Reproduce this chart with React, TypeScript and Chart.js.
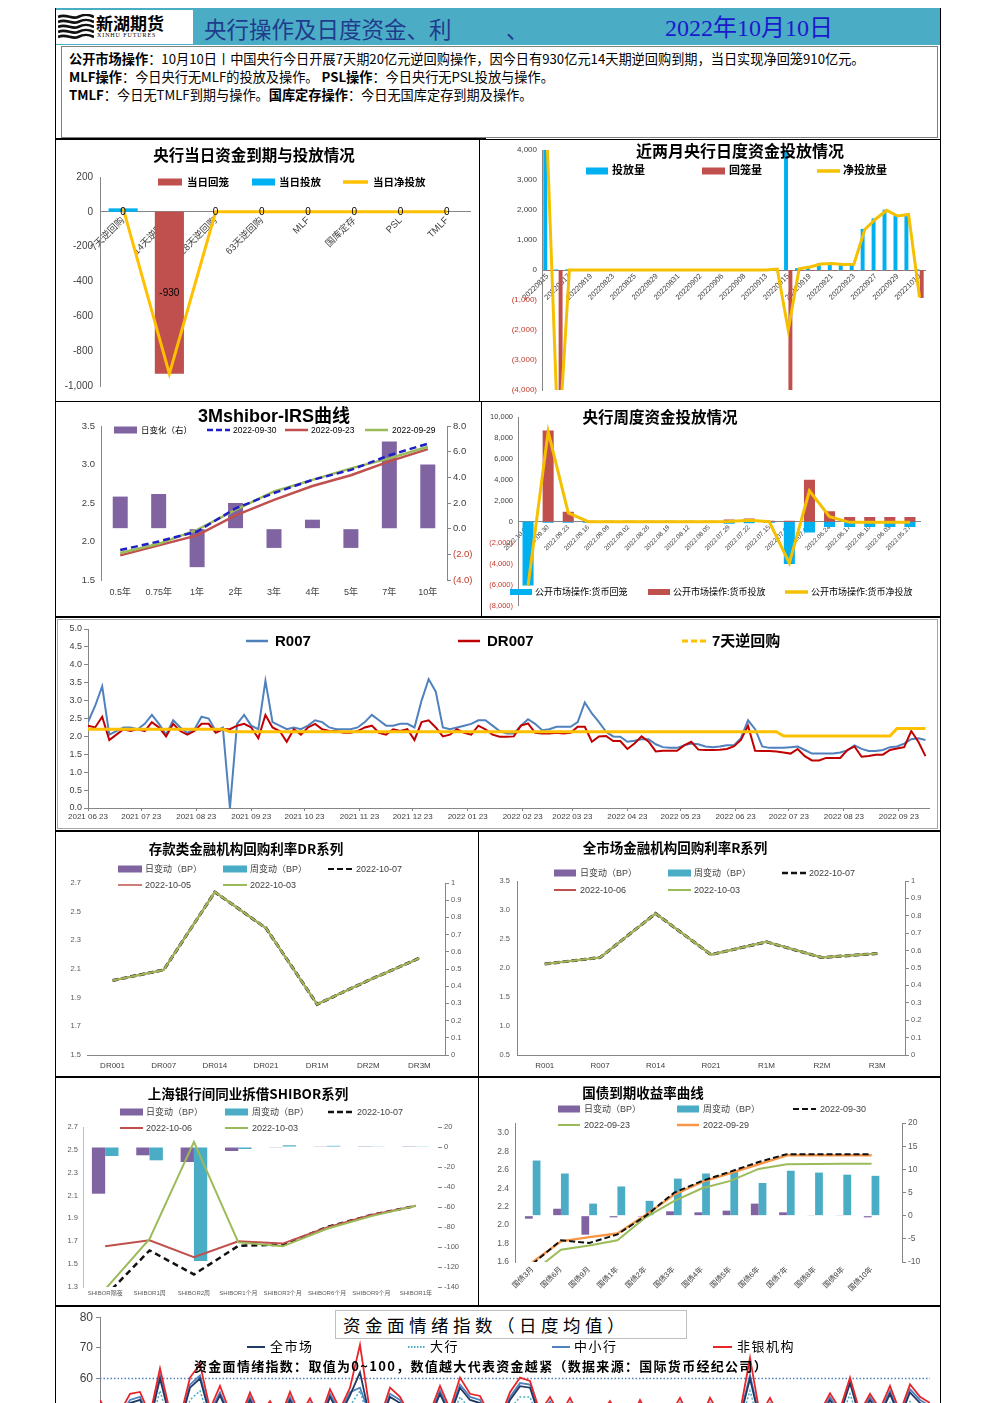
import React, { useEffect, useRef } from 'react';
import { Chart, registerables } from 'chart.js';

Chart.register(...registerables);

const LATIN = '"Liberation Sans", "Noto Sans CJK SC", sans-serif';
const CJK = '"Noto Sans CJK SC", "Liberation Sans", sans-serif';
const SERIF = '"Liberation Serif", "Noto Sans CJK SC", serif';
Chart.defaults.font.family = LATIN;
Chart.defaults.color = '#404040';

// ---------------- data ----------------
// 1. 央行当日资金到期与投放情况
const OPS_CATS = ['7天逆回购', '14天逆回购', '28天逆回购', '63天逆回购', 'MLF', '国库定存', 'PSL', 'TMLF'];
const OPS_WITHDRAW = [0, -930, 0, 0, 0, 0, 0, 0];
const OPS_INJECT = [20, 0, 0, 0, 0, 0, 0, 0];
const OPS_NET = [20, -930, 0, 0, 0, 0, 0, 0];

// 2. 近两月央行日度资金投放情况
const DAILY_DATES = ['20220815', '20220816', '20220817', '20220818', '20220819', '20220822', '20220823', '20220824', '20220825', '20220826',
  '20220829', '20220830', '20220831', '20220901', '20220902', '20220905', '20220906', '20220907', '20220908', '20220909',
  '20220913', '20220914', '20220915', '20220916', '20220919', '20220920', '20220921', '20220922', '20220923', '20220926',
  '20220927', '20220928', '20220929', '20220930', '20221010'];
const DAILY_INJECT = [4020, 20, 20, 20, 20, 20, 20, 20, 20, 20, 20, 20, 20, 20, 20, 20, 20, 20, 20, 20,
  20, 50, 4020, 60, 120, 220, 240, 200, 210, 1370, 1720, 2010, 1820, 1870, 20];
const DAILY_WITHDRAW = [-20, -6020, -20, -20, -20, -20, -20, -20, -20, -20, -20, -20, -20, -20, -20, -20, -20, -20, -20, -20,
  -20, -20, -6020, -20, -20, -20, -20, -20, -20, -20, -20, -20, -20, -20, -930];
const DAILY_NET = [4000, -6000, 0, 0, 0, 0, 0, 0, 0, 0, 0, 0, 0, 0, 0, 0, 0, 0, 0, 0,
  0, 30, -2000, 40, 100, 200, 220, 180, 190, 1350, 1700, 1990, 1800, 1850, -910];

// 3. 3Mshibor-IRS曲线
const IRS_TENORS = ['0.5年', '0.75年', '1年', '2年', '3年', '4年', '5年', '7年', '10年'];
const IRS_CHG = [2.5, 2.7, -3.0, 2.0, -1.5, 0.7, -1.5, 6.8, 5.0];
const IRS_0930 = [1.89, 2.0, 2.13, 2.43, 2.63, 2.8, 2.93, 3.12, 3.27];
const IRS_0923 = [1.82, 1.95, 2.08, 2.34, 2.54, 2.72, 2.86, 3.04, 3.2];
const IRS_0929 = [1.85, 1.97, 2.15, 2.41, 2.65, 2.8, 2.95, 3.08, 3.23];

// 4. 央行周度资金投放情况
const WEEKS = ['2022.10.07', '2022.09.30', '2022.09.23', '2022.09.16', '2022.09.09', '2022.09.02', '2022.08.26', '2022.08.19', '2022.08.12', '2022.08.05',
  '2022.07.29', '2022.07.22', '2022.07.15', '2022.07.08', '2022.07.01', '2022.06.24', '2022.06.17', '2022.06.10', '2022.06.03', '2022.05.27'];
const WEEKLY_WITHDRAW = [-6100, -100, -100, -100, -100, -100, -100, -100, -100, -100, -200, -150, -100, -4040, -1040, -510, -500, -500, -500, -500];
const WEEKLY_INJECT = [0, 8700, 950, 100, 100, 100, 100, 100, 100, 100, 220, 300, 100, 100, 4000, 1000, 440, 440, 440, 440];
const WEEKLY_NET = [-6100, 8600, 850, 0, 0, 0, 0, 0, 0, 0, 20, 150, 0, -3940, 2960, 490, -60, -60, -60, -60];

// 5. R007 / DR007 / 7天逆回购 (sampled every 4 calendar days from 2021-06-23)
const RATE_START = '2021 06 23';
const RATE_STEP_DAYS = 4;
const RATE_TICK_LABELS = ['2021 06 23', '2021 07 23', '2021 08 23', '2021 09 23', '2021 10 23', '2021 11 23', '2021 12 23', '2022 01 23',
  '2022 02 23', '2022 03 23', '2022 04 23', '2022 05 23', '2022 06 23', '2022 07 23', '2022 08 23', '2022 09 23'];
const R007 = [2.4, 2.85, 3.4, 2.05, 2.15, 2.25, 2.25, 2.2, 2.35, 2.6,
  2.35, 2.05, 2.45, 2.25, 2.1, 2.2, 2.55, 2.5, 2.15, 2.25,
  0.0, 2.35, 2.6, 2.3, 2.2, 3.55, 2.4, 2.3, 2.2, 2.25,
  2.2, 2.3, 2.45, 2.4, 2.25, 2.2, 2.2, 2.2, 2.25, 2.4,
  2.6, 2.45, 2.3, 2.3, 2.35, 2.35, 2.25, 3.0, 3.6, 3.25,
  2.25, 2.2, 2.25, 2.3, 2.35, 2.45, 2.45, 2.3, 2.15, 2.08,
  2.08, 2.3, 2.48, 2.35, 2.17, 2.2, 2.27, 2.27, 2.27, 2.4,
  2.95, 2.64, 2.4, 2.13, 2.0, 1.99, 1.85, 1.88, 1.92, 1.92,
  1.78, 1.7, 1.68, 1.68, 1.75, 1.8, 1.78, 1.72, 1.7, 1.72,
  1.75, 1.75, 1.95, 2.45, 2.2, 1.72, 1.68, 1.68, 1.68, 1.7,
  1.72, 1.62, 1.52, 1.52, 1.52, 1.52, 1.55, 1.61, 1.75, 1.65,
  1.59, 1.59, 1.62, 1.7, 1.72, 1.8, 1.92, 1.95, 1.9];
const DR007 = [2.3, 2.25, 2.55, 1.9, 2.05, 2.2, 2.15, 2.2, 2.15, 2.4,
  2.25, 2.0, 2.35, 2.15, 2.05, 2.15, 2.35, 2.35, 2.1, 2.2,
  2.2, 2.3, 2.35, 2.25, 1.95, 2.6, 2.25, 2.15, 1.85, 2.2,
  2.05, 2.25, 2.35, 2.2, 2.15, 2.15, 2.1, 2.1, 2.15, 2.25,
  2.3, 2.1, 2.05, 2.2, 2.15, 2.2, 1.9, 2.4, 2.45, 2.25,
  2.0, 2.05, 2.2, 2.1, 2.05, 2.3, 2.2, 2.05, 1.99, 1.99,
  2.0, 2.3, 2.36, 2.1, 2.08, 2.08, 2.1, 2.08, 2.1, 2.27,
  2.27, 1.85, 2.0, 2.01, 1.87, 1.87, 1.65, 1.8, 2.0, 1.85,
  1.58, 1.6, 1.6, 1.6, 1.75, 1.85, 1.63, 1.62, 1.62, 1.63,
  1.65, 1.72, 1.9, 2.3, 1.6, 1.59, 1.59, 1.58, 1.55, 1.52,
  1.65, 1.45, 1.33, 1.33, 1.4, 1.4, 1.4, 1.62, 1.72, 1.43,
  1.45, 1.49, 1.49, 1.62, 1.66, 1.7, 2.15, 1.85, 1.45];
const REPO7 = [2.2, 2.2, 2.2, 2.2, 2.2, 2.2, 2.2, 2.2, 2.2, 2.2,
  2.2, 2.2, 2.2, 2.2, 2.2, 2.2, 2.2, 2.2, 2.2, 2.2,
  2.13, 2.13, 2.13, 2.13, 2.13, 2.13, 2.13, 2.13, 2.13, 2.13,
  2.13, 2.13, 2.13, 2.13, 2.13, 2.13, 2.13, 2.13, 2.13, 2.13,
  2.13, 2.13, 2.13, 2.13, 2.13, 2.13, 2.13, 2.13, 2.13, 2.13,
  2.13, 2.13, 2.13, 2.13, 2.13, 2.13, 2.13, 2.13, 2.13, 2.13,
  2.13, 2.13, 2.13, 2.13, 2.13, 2.13, 2.13, 2.13, 2.13, 2.13,
  2.13, 2.13, 2.13, 2.13, 2.13, 2.13, 2.13, 2.13, 2.13, 2.13,
  2.13, 2.13, 2.13, 2.13, 2.13, 2.13, 2.13, 2.13, 2.13, 2.13,
  2.13, 2.13, 2.13, 2.13, 2.13, 2.13, 2.13, 2.13, 2.01, 2.01,
  2.01, 2.01, 2.01, 2.01, 2.01, 2.01, 2.01, 2.01, 2.01, 2.01,
  2.01, 2.01, 2.01, 2.01, 2.22, 2.22, 2.22, 2.22, 2.22];

// 6. 存款类金融机构回购利率DR系列
const DR_TENORS = ['DR001', 'DR007', 'DR014', 'DR021', 'DR1M', 'DR2M', 'DR3M'];
const DR_DAY = [0, 0, 0, 0, 0, 0, 0];
const DR_WEEK = [0, 0, 0, 0, 0, 0, 0];
const DR_1007 = [2.02, 2.094, 2.637, 2.385, 1.854, 2.02, 2.176];
const DR_1005 = [2.02, 2.094, 2.637, 2.385, 1.854, 2.02, 2.176];
const DR_1003 = [2.02, 2.094, 2.637, 2.385, 1.854, 2.02, 2.176];

// 7. 全市场金融机构回购利率R系列
const R_TENORS = ['R001', 'R007', 'R014', 'R021', 'R1M', 'R2M', 'R3M'];
const R_DAY = [0, 0, 0, 0, 0, 0, 0];
const R_WEEK = [0, 0, 0, 0, 0, 0, 0];
const R_1007 = [2.07, 2.18, 2.94, 2.23, 2.45, 2.18, 2.25];
const R_1006 = [2.07, 2.18, 2.94, 2.23, 2.45, 2.18, 2.25];
const R_1003 = [2.07, 2.18, 2.94, 2.23, 2.45, 2.18, 2.25];
const UNIT_TICKS = [0, 0.1, 0.2, 0.3, 0.4, 0.5, 0.6, 0.7, 0.8, 0.9, 1];

// 8. 上海银行间同业拆借SHIBOR系列
const SHIBOR_TENORS = ['SHIBOR隔夜', 'SHIBOR1周', 'SHIBOR2周', 'SHIBOR1个月', 'SHIBOR3个月', 'SHIBOR6个月', 'SHIBOR9个月', 'SHIBOR1年'];
const SHIBOR_DAY = [-46.7, -8.3, -15, -4, -0.3, 0.3, 0.2, 0.2];
const SHIBOR_WEEK = [-9, -13.3, -114, -2, 1.7, 1.2, 0.3, 0.3];
const SHIBOR_1007 = [1.22, 1.62, 1.41, 1.66, 1.67, 1.825, 1.93, 2.01];
const SHIBOR_1006 = [1.656, 1.708, 1.56, 1.7, 1.68, 1.82, 1.93, 2.01];
const SHIBOR_1003 = [1.28, 1.72, 2.57, 1.69, 1.656, 1.81, 1.92, 2.01];
const SHIBOR_LEFT_TICKS = [1.3, 1.5, 1.7, 1.9, 2.1, 2.3, 2.5, 2.7];

// 9. 国债到期收益率曲线
const BOND_TENORS = ['国债3月', '国债6月', '国债9月', '国债1年', '国债2年', '国债3年', '国债4年', '国债5年', '国债6年', '国债7年', '国债8年', '国债9年', '国债10年'];
const BOND_DAY = [-0.65, 1.5, -4.1, -0.36, -0.2, 0.94, 0.72, 1.08, 2.6, 0.72, 0.14, 0.14, -0.36];
const BOND_WEEK = [11.9, 9.1, 2.6, 6.3, 3.2, 8.0, 9.1, 9.4, 7.05, 9.7, 9.3, 8.85, 8.6];
const BOND_0930 = [1.58, 1.835, 1.806, 1.9, 2.1, 2.35, 2.48, 2.58, 2.685, 2.77, 2.77, 2.77, 2.77];
const BOND_0923 = [1.49, 1.734, 1.78, 1.835, 2.085, 2.26, 2.4, 2.48, 2.61, 2.66, 2.663, 2.665, 2.667];
const BOND_0929 = [1.6, 1.824, 1.87, 1.91, 2.11, 2.33, 2.47, 2.565, 2.66, 2.757, 2.757, 2.757, 2.757];
const BOND_LEFT_TICKS = [1.6, 1.8, 2.0, 2.2, 2.4, 2.6, 2.8, 3.0];

// 10. 资金面情绪指数
const SENT_ALL = [51, 46, 47, 52, 53, 46, 60, 47, 45, 57,
  60, 48, 54.5, 47, 45, 53, 46, 50.5, 45, 53,
  46, 51, 45, 54, 48, 54.5, 62, 47, 45, 54,
  52, 46, 44, 47, 55, 48, 57, 53, 52, 46,
  45, 53, 57.5, 57, 47, 51.5, 46, 51, 45, 44,
  46, 50, 45, 44, 51, 45, 44, 46, 51, 45,
  44, 51, 46, 44, 47, 60, 46, 51, 45, 44,
  46, 45, 47, 53, 48, 58.5, 47, 53, 48, 55,
  47, 55.5, 52, 50];
const SENT_BIG = [48, 44, 45, 49, 50, 44, 56, 45, 43, 53,
  56, 46, 51, 45, 43, 50, 44, 48, 43, 50,
  44, 48, 43, 51, 46, 51, 56, 45, 43, 51,
  49, 44, 42, 45, 52, 46, 54, 50, 49, 44,
  43, 50, 54, 54, 45, 48, 44, 48, 43, 42,
  44, 47, 43, 42, 48, 43, 42, 44, 48, 43,
  42, 48, 44, 42, 45, 56, 44, 48, 43, 42,
  44, 43, 45, 50, 46, 55, 45, 50, 46, 52,
  45, 52.5, 49, 47];
const SENT_SMALL = [52, 46.5, 48, 53, 54, 47, 61, 48, 46, 58,
  61, 49, 55.5, 48, 46, 54, 47, 51.5, 46, 54,
  47, 52, 46, 55, 49, 55.5, 57, 48, 46, 55,
  53, 47, 45, 48, 56, 49, 58, 54, 53, 47,
  46, 54, 58.5, 58, 48, 52.5, 47, 52, 46, 45,
  47, 51, 46, 45, 52, 46, 45, 47, 52, 46,
  45, 52, 47, 45, 48, 61, 47, 52, 46, 45,
  47, 46, 48, 54, 49, 59, 48, 54, 49, 56,
  48, 56.5, 53, 51];
const SENT_NONBANK = [53, 47, 49, 55, 55.6, 48, 63.3, 49, 47, 60.3,
  64.7, 50, 57.6, 49, 47, 55.4, 48, 52.6, 47, 55.6,
  48, 53.5, 47, 56.5, 50, 57, 71, 49, 47, 57,
  54, 48, 46, 49, 57.6, 50, 60.3, 55, 54.3, 48,
  47, 55.5, 60.3, 59.2, 49, 54, 48, 53.7, 47, 46,
  48, 52.6, 47, 46, 53, 47, 46, 48, 53.7, 47,
  46, 53.7, 48, 46, 49, 66.7, 48, 53.7, 47, 46,
  48, 47, 49, 55.2, 50, 60.3, 49, 55, 50, 57.6,
  49, 58.1, 54, 52];
const SENT_ALERT = 60;

// ---------------- helpers ----------------
type Rect = { l: number; t: number; r: number; b: number };
const pad = (panel: Rect, plot: Rect, lw: number, rw: number, bh: number) => ({
  left: plot.l - panel.l - lw,
  top: plot.t - panel.t,
  right: panel.r - plot.r - rw,
  bottom: panel.b - plot.b - bh,
});
const fitW = (w: number) => (s: any) => { s.width = w; };
const fitH = (h: number) => (s: any) => { s.height = h; };
const fixTicks = (vals: number[]) => (s: any) => { s.ticks = vals.map((v) => ({ value: v })); };
const acct = (v: number, d = 0) => {
  const s = Math.abs(v).toLocaleString('en-US', { minimumFractionDigits: d, maximumFractionDigits: d });
  return v < 0 ? `(${s})` : s;
};
const negRed = (ctx: any) => (ctx.tick && ctx.tick.value < 0 ? '#C0392B' : '#404040');
const GRAY = '#868686';
const noGrid = { display: false, drawTicks: false };
const tickGrid = (len: number) => ({ display: true, drawOnChartArea: false, drawTicks: true, tickLength: len, color: GRAY });
const dayNum = (s: string) => { const [y, m, d] = s.split(' ').map(Number); return Date.UTC(y, m - 1, d) / 86400000; };
const RATE_TICK_DAYS = RATE_TICK_LABELS.map((s) => dayNum(s) - dayNum(RATE_START));
const toXY = (arr: number[], step: number) => arr.map((v, i) => ({ x: i * step, y: v }));

const base = (padding: any, extraPlugins: any = {}) => ({
  responsive: false,
  animation: false,
  devicePixelRatio: 1,
  events: [],
  layout: { padding, autoPadding: false },
  plugins: { legend: { display: false }, tooltip: { enabled: false }, ...extraPlugins },
});

const barLabelPlugin = {
  id: 'barLabels',
  afterDatasetsDraw(chart: any, _a: any, opts: any) {
    if (!opts || opts.datasetIndex == null) return;
    const meta = chart.getDatasetMeta(opts.datasetIndex);
    const data = chart.data.datasets[opts.datasetIndex].data;
    const ctx = chart.ctx;
    ctx.save();
    ctx.font = opts.font;
    ctx.fillStyle = opts.color;
    ctx.textAlign = 'center';
    ctx.textBaseline = 'middle';
    meta.data.forEach((el: any, i: number) => {
      const p = el.getProps(['x', 'y', 'base'], true);
      ctx.fillText(String(data[i]), p.x, (p.y + p.base) / 2);
    });
    ctx.restore();
  },
};

const refLinePlugin = {
  id: 'refLine',
  beforeDatasetsDraw(chart: any, _a: any, opts: any) {
    if (!opts || opts.value == null) return;
    const { ctx, chartArea } = chart;
    const y = chart.scales.y.getPixelForValue(opts.value);
    ctx.save();
    ctx.strokeStyle = opts.color;
    ctx.lineWidth = 1.5;
    ctx.setLineDash([1.5, 2]);
    ctx.beginPath();
    ctx.moveTo(chartArea.left, y);
    ctx.lineTo(chartArea.right, y);
    ctx.stroke();
    ctx.restore();
  },
};

// ---------------- chart configs ----------------
const P1 = { l: 56, t: 140, r: 479, b: 400 };
const A1 = { l: 100, t: 177, r: 470, b: 386 };
const cfg1 = () => ({
  type: 'bar',
  data: {
    labels: OPS_CATS,
    datasets: [
      { type: 'line', label: '当日净投放', data: OPS_NET, borderColor: '#FFC000', borderWidth: 3, pointRadius: 0, order: 0 },
      { label: '当日回笼', data: OPS_WITHDRAW, backgroundColor: '#C0504D', grouped: false, barPercentage: 0.63, categoryPercentage: 1, order: 2 },
      { label: '当日投放', data: OPS_INJECT, backgroundColor: '#00B0F0', grouped: false, barPercentage: 0.63, categoryPercentage: 1, order: 1 },
    ],
  },
  options: {
    ...base(pad(P1, A1, 44, 0, 0), { barLabels: { datasetIndex: 1, font: `10px ${LATIN}`, color: '#000' } }),
    scales: {
      x: { position: { y: 0 }, offset: true, grid: noGrid, border: { color: GRAY }, ticks: { autoSkip: false, minRotation: 45, maxRotation: 45, font: { size: 9.5 }, color: '#404040', padding: 3 } },
      y: { min: -1000, max: 200, grid: noGrid, border: { color: GRAY }, ticks: { stepSize: 200, font: { size: 10 }, color: '#404040', padding: 7 }, afterFit: fitW(44) },
    },
  },
  plugins: [barLabelPlugin],
});

const P2 = { l: 480, t: 140, r: 940, b: 400 };
const A2 = { l: 542, t: 150, r: 925, b: 390 };
const cfg2 = () => ({
  type: 'bar',
  data: {
    labels: DAILY_DATES,
    datasets: [
      { type: 'line', label: '净投放量', data: DAILY_NET, borderColor: '#F5C000', borderWidth: 3, pointRadius: 0, order: 0 },
      { label: '投放量', data: DAILY_INJECT, backgroundColor: '#00B0F0', categoryPercentage: 0.8, barPercentage: 0.9, order: 1 },
      { label: '回笼量', data: DAILY_WITHDRAW, backgroundColor: '#C0504D', categoryPercentage: 0.8, barPercentage: 0.9, order: 2 },
    ],
  },
  options: {
    ...base(pad(P2, A2, 62, 0, 0)),
    scales: {
      x: { position: { y: 0 }, offset: true, grid: noGrid, border: { color: GRAY }, ticks: { autoSkip: false, minRotation: 45, maxRotation: 45, font: { size: 7.5 }, color: '#404040', padding: 2, callback: (_v: any, i: number) => (i % 2 === 0 ? DAILY_DATES[i] : '') } },
      y: { min: -4000, max: 4000, grid: noGrid, border: { color: GRAY }, ticks: { stepSize: 1000, font: { size: 8 }, color: negRed, padding: 5, callback: (v: number) => acct(v) }, afterFit: fitW(62) },
    },
  },
});

const P3 = { l: 56, t: 402, r: 480, b: 615 };
const A3 = { l: 101, t: 426, r: 447, b: 580 };
const cfg3 = () => ({
  type: 'bar',
  data: {
    labels: IRS_TENORS,
    datasets: [
      { type: 'line', label: '2022-09-30', data: IRS_0930, yAxisID: 'y', borderColor: '#1F1FC8', borderWidth: 2.5, borderDash: [7, 4], pointRadius: 0, order: 0 },
      { type: 'line', label: '2022-09-29', data: IRS_0929, yAxisID: 'y', borderColor: '#9BBB59', borderWidth: 2.5, pointRadius: 0, order: 1 },
      { type: 'line', label: '2022-09-23', data: IRS_0923, yAxisID: 'y', borderColor: '#C0504D', borderWidth: 2.5, pointRadius: 0, order: 2 },
      { label: '日变化（右）', data: IRS_CHG, yAxisID: 'y2', backgroundColor: '#8064A2', barPercentage: 0.39, categoryPercentage: 1, order: 3 },
    ],
  },
  options: {
    ...base(pad(P3, A3, 45, 33, 22)),
    scales: {
      x: { grid: noGrid, border: { display: false }, ticks: { autoSkip: false, maxRotation: 0, font: { size: 9 }, color: '#404040', padding: 7 }, afterFit: fitH(22) },
      y: { position: 'left', min: 1.5, max: 3.5, grid: noGrid, border: { color: GRAY }, ticks: { stepSize: 0.5, font: { size: 9.5 }, color: '#404040', padding: 6, callback: (v: number) => v.toFixed(1) }, afterFit: fitW(45) },
      y2: { position: 'right', min: -4, max: 8, grid: tickGrid(4), border: { color: GRAY }, ticks: { stepSize: 2, font: { size: 9.5 }, color: negRed, padding: 2, callback: (v: number) => acct(v, 1) }, afterFit: fitW(33) },
    },
  },
});

const P4 = { l: 481, t: 402, r: 940, b: 615 };
const A4 = { l: 518, t: 417, r: 920, b: 607 };
const cfg4 = () => ({
  type: 'bar',
  data: {
    labels: WEEKS,
    datasets: [
      { type: 'line', label: '公开市场操作:货币净投放', data: WEEKLY_NET, borderColor: '#F5C000', borderWidth: 3, pointRadius: 0, order: 0 },
      { label: '公开市场操作:货币回笼', data: WEEKLY_WITHDRAW, backgroundColor: '#00B0F0', grouped: false, barPercentage: 0.55, categoryPercentage: 1, order: 2 },
      { label: '公开市场操作:货币投放', data: WEEKLY_INJECT, backgroundColor: '#C0504D', grouped: false, barPercentage: 0.55, categoryPercentage: 1, order: 1 },
    ],
  },
  options: {
    ...base(pad(P4, A4, 37, 0, 0)),
    scales: {
      x: { position: { y: 0 }, offset: true, grid: noGrid, border: { color: GRAY }, ticks: { autoSkip: false, minRotation: 45, maxRotation: 45, font: { size: 6.5 }, color: '#404040', padding: 2 } },
      y: { min: -8000, max: 10000, grid: noGrid, border: { color: GRAY }, ticks: { stepSize: 2000, font: { size: 7.5 }, color: negRed, padding: 5, callback: (v: number) => acct(v) }, afterFit: fitW(37) },
    },
  },
});

const P5 = { l: 58, t: 620, r: 937, b: 828 };
const A5 = { l: 88, t: 629, r: 929, b: 808 };
const cfg5 = () => ({
  type: 'line',
  data: {
    datasets: [
      { label: '7天逆回购', data: toXY(REPO7, RATE_STEP_DAYS), borderColor: '#FFC000', borderWidth: 3, pointRadius: 0, order: 0 },
      { label: 'DR007', data: toXY(DR007, RATE_STEP_DAYS), borderColor: '#C00000', borderWidth: 2, pointRadius: 0, order: 1 },
      { label: 'R007', data: toXY(R007, RATE_STEP_DAYS), borderColor: '#4F81BD', borderWidth: 2, pointRadius: 0, order: 2 },
    ],
  },
  options: {
    ...base(pad(P5, A5, 30, 0, 17)),
    scales: {
      x: { type: 'linear', min: 0, max: 474, afterBuildTicks: fixTicks(RATE_TICK_DAYS), grid: tickGrid(3), border: { color: GRAY }, ticks: { autoSkip: false, maxRotation: 0, font: { size: 8 }, color: '#404040', padding: 1, callback: (_v: any, i: number) => RATE_TICK_LABELS[i] }, afterFit: fitH(17) },
      y: { min: 0, max: 5, grid: tickGrid(4), border: { color: GRAY }, ticks: { stepSize: 0.5, font: { size: 9 }, color: '#404040', padding: 2, callback: (v: number) => v.toFixed(1) }, afterFit: fitW(30) },
    },
  },
});

const curveCfg = (panel: Rect, plot: Rect, lw: number, rw: number, bh: number, labels: string[], day: any[], week: any[],
  lines: any[], left: any, right: any, xOpts: any) => ({
  type: 'bar',
  data: {
    labels,
    datasets: [
      ...lines,
      { label: '日变动（BP）', data: day, yAxisID: 'y2', backgroundColor: '#8064A2', order: 10 },
      { label: '周变动（BP）', data: week, yAxisID: 'y2', backgroundColor: '#4BACC6', order: 11 },
    ],
  },
  options: {
    ...base(pad(panel, plot, lw, rw, bh)),
    datasets: { bar: { categoryPercentage: 0.6, barPercentage: 1 } },
    scales: { x: xOpts, y: { position: 'left', ...left, afterFit: fitW(lw) }, y2: { position: 'right', ...right, afterFit: fitW(rw) } },
  },
});

const line = (label: string, data: any, color: string, width: number, order: number, dash?: number[]) => ({
  type: 'line', label, data, yAxisID: 'y', borderColor: color, borderWidth: width, pointRadius: 0, order, borderDash: dash || [],
});

const unitRight = {
  min: 0, max: 1, afterBuildTicks: fixTicks(UNIT_TICKS), grid: tickGrid(4), border: { color: GRAY },
  ticks: { font: { size: 7.5 }, color: '#595959', padding: 2, callback: (v: number) => String(Math.round(v * 10) / 10) },
};

const P6 = { l: 56, t: 832, r: 477, b: 1075 };
const A6 = { l: 87, t: 883, r: 445, b: 1055 };
const cfg6 = () => curveCfg(P6, A6, 31, 30, 18, DR_TENORS, DR_DAY, DR_WEEK, [
  line('2022-10-07', DR_1007, '#222222', 3, 3, [6, 3]),
  line('2022-10-05', DR_1005, '#C0504D', 2, 2),
  line('2022-10-03', DR_1003, '#9BBB59', 2, 1),
], {
  min: 1.5, max: 2.7, afterBuildTicks: fixTicks([1.5, 1.7, 1.9, 2.1, 2.3, 2.5, 2.7]), grid: noGrid, border: { display: false },
  ticks: { font: { size: 7.5 }, color: '#595959', padding: 6, callback: (v: number) => v.toFixed(1) },
}, unitRight, {
  grid: noGrid, border: { color: GRAY }, ticks: { autoSkip: false, maxRotation: 0, font: { size: 8 }, color: '#404040', padding: 6 }, afterFit: fitH(18),
});

const P7 = { l: 479, t: 832, r: 939, b: 1075 };
const A7 = { l: 517, t: 881, r: 905, b: 1055 };
const cfg7 = () => curveCfg(P7, A7, 38, 30, 18, R_TENORS, R_DAY, R_WEEK, [
  line('2022-10-07', R_1007, '#222222', 3, 3, [6, 3]),
  line('2022-10-06', R_1006, '#C0504D', 2, 2),
  line('2022-10-03', R_1003, '#9BBB59', 2, 1),
], {
  min: 0.5, max: 3.5, afterBuildTicks: fixTicks([0.5, 1.0, 1.5, 2.0, 2.5, 3.0, 3.5]), grid: noGrid, border: { color: GRAY },
  ticks: { font: { size: 7.5 }, color: '#595959', padding: 7, callback: (v: number) => v.toFixed(1) },
}, unitRight, {
  grid: noGrid, border: { color: GRAY }, ticks: { autoSkip: false, maxRotation: 0, font: { size: 8 }, color: '#404040', padding: 6 }, afterFit: fitH(18),
});

const P8 = { l: 56, t: 1077, r: 477, b: 1305 };
const A8 = { l: 83, t: 1127, r: 438, b: 1287 };
const cfg8 = () => curveCfg(P8, A8, 27, 36, 14, SHIBOR_TENORS, SHIBOR_DAY, SHIBOR_WEEK, [
  line('2022-10-07', SHIBOR_1007, '#111111', 2.5, 3, [6, 4]),
  line('2022-10-06', SHIBOR_1006, '#C0504D', 2, 2),
  line('2022-10-03', SHIBOR_1003, '#9BBB59', 2, 1),
], {
  min: 1.3, max: 2.7, afterBuildTicks: fixTicks(SHIBOR_LEFT_TICKS), grid: noGrid, border: { color: '#BFBFBF' },
  ticks: { font: { size: 7.5 }, color: '#595959', padding: 5, callback: (v: number) => v.toFixed(1) },
}, {
  min: -140, max: 20, grid: tickGrid(4), border: { display: false },
  ticks: { stepSize: 20, font: { size: 7.5 }, color: '#595959', padding: 2 },
}, {
  grid: noGrid, border: { display: false }, ticks: { autoSkip: false, maxRotation: 0, font: { size: 6 }, color: '#595959', padding: 3 }, afterFit: fitH(14),
});

const P9 = { l: 479, t: 1077, r: 939, b: 1305 };
const A9 = { l: 515, t: 1123, r: 902, b: 1262 };
const BOND_IDX = BOND_TENORS.map((_, i) => i);
const xy = (arr: number[]) => arr.map((v, i) => ({ x: i, y: v }));
const cfg9 = () => {
  const c: any = curveCfg(P9, A9, 36, 30, 38, BOND_TENORS, xy(BOND_DAY), xy(BOND_WEEK), [
    line('2022-09-30', xy(BOND_0930), '#111111', 2, 1, [6, 3]),
    line('2022-09-29', xy(BOND_0929), '#F79646', 2.5, 2),
    line('2022-09-23', xy(BOND_0923), '#9BBB59', 2, 3),
  ], {
    min: 1.6, max: 3.108, afterBuildTicks: fixTicks(BOND_LEFT_TICKS), grid: noGrid, border: { color: GRAY },
    ticks: { font: { size: 8.5 }, color: '#595959', padding: 6, callback: (v: number) => v.toFixed(1) },
  }, {
    min: -10, max: 20, grid: tickGrid(4), border: { color: GRAY },
    ticks: { stepSize: 5, font: { size: 8.5 }, color: '#595959', padding: 2 },
  }, {
    type: 'linear', min: -0.1, max: 12.55, afterBuildTicks: fixTicks(BOND_IDX), grid: noGrid, border: { display: false },
    ticks: { autoSkip: false, minRotation: 45, maxRotation: 45, font: { size: 7.5 }, color: '#404040', padding: 3, callback: (_v: any, i: number) => BOND_TENORS[i] },
    afterFit: fitH(38),
  });
  c.options.datasets = { bar: { categoryPercentage: 0.55, barPercentage: 1 } };
  return c;
};

const P10 = { l: 56, t: 1307, r: 939, b: 1450 };
const A10 = { l: 100, t: 1316, r: 930, b: 1440 };
const cfg10 = () => ({
  type: 'line',
  data: {
    datasets: [
      { label: '大行', data: xy(SENT_BIG), borderColor: '#4BACC6', borderWidth: 1.5, borderDash: [2, 2], pointRadius: 0, order: 3 },
      { label: '中小行', data: xy(SENT_SMALL), borderColor: '#4F81BD', borderWidth: 1.8, pointRadius: 0, order: 2 },
      { label: '全市场', data: xy(SENT_ALL), borderColor: '#1F3864', borderWidth: 1.8, pointRadius: 0, order: 1 },
      { label: '非银机构', data: xy(SENT_NONBANK), borderColor: '#E8262A', borderWidth: 1.8, pointRadius: 0, order: 0 },
    ],
  },
  options: {
    ...base(pad(P10, A10, 44, 0, 0), { refLine: { value: SENT_ALERT, color: '#4F81BD' } }),
    scales: {
      x: { type: 'linear', display: false, min: 0, max: SENT_ALL.length - 1 },
      y: { min: 40, max: 80, grid: tickGrid(4), border: { color: GRAY }, ticks: { stepSize: 10, font: { size: 12 }, color: '#404040', padding: 3 }, afterFit: fitW(44) },
    },
  },
  plugins: [refLinePlugin],
});

// ---------------- components ----------------
const ChartBox = ({ panel, make }: { panel: Rect; make: () => any }) => {
  const ref = useRef<HTMLCanvasElement>(null);
  useEffect(() => {
    const chart = new Chart(ref.current as HTMLCanvasElement, make());
    return () => chart.destroy();
  }, []);
  const w = panel.r - panel.l;
  const h = panel.b - panel.t;
  return <canvas ref={ref} width={w} height={h} style={{ position: 'absolute', left: panel.l, top: panel.t, width: w, height: h }} />;
};

const Txt = ({ x, y, size, bold, color = '#000', family = LATIN, ls, center, children }: any) => (
  <div style={{
    position: 'absolute', left: x, top: y - size * 0.6, fontSize: size, lineHeight: `${size * 1.2}px`,
    fontWeight: bold ? 700 : 400, color, fontFamily: family, whiteSpace: 'nowrap', letterSpacing: ls,
    transform: center ? 'translateX(-50%)' : undefined,
  }}>{children}</div>
);

const L = ({ x, y, w, h, kind, color, text, tx, size, bold, ls, tcolor = '#000' }: any) => (
  <>
    <svg style={{ position: 'absolute', left: x, top: y - 8 }} width={w} height={16}>
      {kind === 'box'
        ? <rect x={0} y={8 - h / 2} width={w} height={h} fill={color} />
        : <line x1={0} y1={8} x2={w} y2={8} stroke={color} strokeWidth={h}
          strokeDasharray={kind === 'dash' ? '6 3' : kind === 'dot' ? '1.5 1.5' : undefined} />}
    </svg>
    <Txt x={tx} y={y} size={size} bold={bold} ls={ls} color={tcolor}>{text}</Txt>
  </>
);

const HLine = ({ x1, x2, y, w = 1, c = '#000' }: any) => <div style={{ position: 'absolute', left: x1, top: y, width: x2 - x1, height: w, background: c }} />;
const VLine = ({ x, y1, y2, w = 1, c = '#000' }: any) => <div style={{ position: 'absolute', left: x, top: y1, width: w, height: y2 - y1, background: c }} />;

const BB = ({ children }: any) => <span style={{ fontWeight: 700 }}>{children}</span>;

export default function App() {
  return (
    <div style={{ position: 'absolute', left: 0, top: 0, width: 992, height: 1403, overflow: 'hidden', background: '#fff', fontFamily: LATIN }}>
      {/* header */}
      <div style={{ position: 'absolute', left: 55, top: 8, width: 886, height: 37, background: '#4BACC6' }} />
      <div style={{ position: 'absolute', left: 56, top: 10, width: 137, height: 34, background: '#fff' }} />
      <svg style={{ position: 'absolute', left: 58, top: 14 }} width={36} height={27}>
        {[3, 8, 13, 18, 23].map((yy, i) => (
          <path key={i} d={`M0 ${yy} C 8 ${yy - 4}, 14 ${yy + 3}, 20 ${yy} S 30 ${yy - 3}, 36 ${yy}`} stroke="#111" strokeWidth={2.6} fill="none" />
        ))}
      </svg>
      <Txt x={96} y={23} size={17} bold family={CJK}>新湖期货</Txt>
      <Txt x={97} y={36} size={6} ls={0.9} family={SERIF}>XINHU FUTURES</Txt>
      <Txt x={204} y={28} size={22.5} color="#1F3B8C" family={CJK}>央行操作及日度资金、利</Txt>
      <Txt x={506} y={28} size={22.5} color="#1F3B8C" family={CJK}>、</Txt>
      <Txt x={665} y={28} size={24} color="#1A1ACD" family={SERIF}>2022年10月10日</Txt>

      {/* text box */}
      <div style={{ position: 'absolute', left: 61, top: 46, width: 877, height: 92, border: '1px solid #7F7F7F', boxSizing: 'border-box' }} />
      <Txt x={69} y={59} size={13.2} family={CJK}><BB>公开市场操作</BB>：10月10日丨中国央行今日开展7天期20亿元逆回购操作，因今日有930亿元14天期逆回购到期，当日实现净回笼910亿元。</Txt>
      <Txt x={69} y={77} size={13.2} family={CJK}><BB>MLF操作</BB>：今日央行无MLF的投放及操作。 <BB>PSL操作</BB>：今日央行无PSL投放与操作。</Txt>
      <Txt x={69} y={95} size={13.2} family={CJK}><BB>TMLF</BB>：今日无TMLF到期与操作。<BB>国库定存操作</BB>：今日无国库定存到期及操作。</Txt>

      {/* frame lines */}
      <VLine x={55} y1={8} y2={1403} />
      <VLine x={940} y1={8} y2={1403} />
      <HLine x1={55} x2={486} y={138} w={2} />
      <HLine x1={55} x2={941} y={139} />
      <VLine x={479} y1={139} y2={401} />
      <HLine x1={55} x2={941} y={401} />
      <VLine x={481} y1={401} y2={616} />
      <HLine x1={55} x2={941} y={616} w={2} />
      <div style={{ position: 'absolute', left: 57, top: 619, width: 881, height: 210, border: '1px solid #A6A6A6', boxSizing: 'border-box' }} />
      <HLine x1={55} x2={941} y={830} w={2} />
      <VLine x={478} y1={830} y2={1306} />
      <HLine x1={55} x2={941} y={1076} w={2} />
      <HLine x1={55} x2={941} y={1305} w={2} />

      {/* chart 1 */}
      <ChartBox panel={P1} make={cfg1} />
      <Txt x={254} y={156} size={15.5} bold center family={SERIF}>央行当日资金到期与投放情况</Txt>
      <L x={158} y={182} w={24} h={7} kind="box" color="#C0504D" text="当日回笼" tx={187} size={10.5} bold />
      <L x={252} y={182} w={23} h={7} kind="box" color="#00B0F0" text="当日投放" tx={279} size={10.5} bold />
      <L x={343} y={182} w={25} h={3.5} kind="line" color="#FFC000" text="当日净投放" tx={373} size={10.5} bold />

      {/* chart 2 */}
      <ChartBox panel={P2} make={cfg2} />
      <Txt x={740} y={152} size={16} bold center family={SERIF}>近两月央行日度资金投放情况</Txt>
      <L x={586} y={171} w={22} h={7} kind="box" color="#00B0F0" text="投放量" tx={612} size={11} bold />
      <L x={702} y={171} w={23} h={7} kind="box" color="#C0504D" text="回笼量" tx={729} size={11} bold />
      <L x={817} y={171} w={23} h={3.5} kind="line" color="#F5C000" text="净投放量" tx={843} size={11} bold />

      {/* chart 3 */}
      <ChartBox panel={P3} make={cfg3} />
      <Txt x={274} y={417} size={18} bold center>3Mshibor-IRS曲线</Txt>
      <L x={114} y={430} w={23} h={7} kind="box" color="#8064A2" text="日变化（右）" tx={141} size={8.5} />
      <L x={207} y={430} w={23} h={2.5} kind="dash" color="#1F1FC8" text="2022-09-30" tx={233} size={8.5} />
      <L x={285} y={430} w={23} h={2.5} kind="line" color="#C0504D" text="2022-09-23" tx={311} size={8.5} />
      <L x={365} y={430} w={23} h={2.5} kind="line" color="#9BBB59" text="2022-09-29" tx={392} size={8.5} />

      {/* chart 4 */}
      <ChartBox panel={P4} make={cfg4} />
      <Txt x={660} y={418} size={15.5} bold center family={SERIF}>央行周度资金投放情况</Txt>
      <L x={510} y={592} w={22} h={6} kind="box" color="#00B0F0" text="公开市场操作:货币回笼" tx={535} size={9} />
      <L x={648} y={592} w={22} h={6} kind="box" color="#C0504D" text="公开市场操作:货币投放" tx={673} size={9} />
      <L x={785} y={592} w={23} h={3.5} kind="line" color="#F5C000" text="公开市场操作:货币净投放" tx={811} size={9} />

      {/* chart 5 */}
      <ChartBox panel={P5} make={cfg5} />
      <L x={246} y={641} w={22} h={2.5} kind="line" color="#4F81BD" text="R007" tx={275} size={15} bold />
      <L x={458} y={641} w={22} h={2.5} kind="line" color="#C00000" text="DR007" tx={487} size={15} bold />
      <L x={682} y={641} w={25} h={3} kind="dash" color="#FFC000" text="7天逆回购" tx={712} size={15} bold />

      {/* chart 6 */}
      <ChartBox panel={P6} make={cfg6} />
      <Txt x={246} y={848} size={13.5} bold center family={CJK}>存款类金融机构回购利率DR系列</Txt>
      <L x={118} y={869} w={24} h={7} kind="box" color="#8064A2" text="日变动（BP）" tx={145} size={9} tcolor="#404040" />
      <L x={223} y={869} w={24} h={7} kind="box" color="#4BACC6" text="周变动（BP）" tx={250} size={9} tcolor="#404040" />
      <L x={328} y={869} w={25} h={2} kind="dash" color="#111" text="2022-10-07" tx={356} size={9} tcolor="#404040" />
      <L x={118} y={885} w={24} h={1.5} kind="line" color="#C0504D" text="2022-10-05" tx={145} size={9} tcolor="#404040" />
      <L x={223} y={885} w={24} h={2} kind="line" color="#9BBB59" text="2022-10-03" tx={250} size={9} tcolor="#404040" />

      {/* chart 7 */}
      <ChartBox panel={P7} make={cfg7} />
      <Txt x={675} y={847} size={13.5} bold center family={CJK}>全市场金融机构回购利率R系列</Txt>
      <L x={554} y={873} w={22} h={7} kind="box" color="#8064A2" text="日变动（BP）" tx={580} size={9} tcolor="#404040" />
      <L x={668} y={873} w={23} h={7} kind="box" color="#4BACC6" text="周变动（BP）" tx={694} size={9} tcolor="#404040" />
      <L x={782} y={873} w={24} h={2.5} kind="dash" color="#111" text="2022-10-07" tx={809} size={9} tcolor="#404040" />
      <L x={554} y={890} w={22} h={2} kind="line" color="#C0504D" text="2022-10-06" tx={580} size={9} tcolor="#404040" />
      <L x={668} y={890} w={23} h={2} kind="line" color="#9BBB59" text="2022-10-03" tx={694} size={9} tcolor="#404040" />

      {/* chart 8 */}
      <ChartBox panel={P8} make={cfg8} />
      <Txt x={248} y={1093} size={13.5} bold center family={CJK}>上海银行间同业拆借SHIBOR系列</Txt>
      <L x={120} y={1112} w={23} h={7} kind="box" color="#8064A2" text="日变动（BP）" tx={146} size={9} tcolor="#404040" />
      <L x={225} y={1112} w={23} h={7} kind="box" color="#4BACC6" text="周变动（BP）" tx={252} size={9} tcolor="#404040" />
      <L x={328} y={1112} w={25} h={2.5} kind="dash" color="#111" text="2022-10-07" tx={357} size={9} tcolor="#404040" />
      <L x={120} y={1128} w={23} h={2} kind="line" color="#C0504D" text="2022-10-06" tx={146} size={9} tcolor="#404040" />
      <L x={225} y={1128} w={23} h={2} kind="line" color="#9BBB59" text="2022-10-03" tx={252} size={9} tcolor="#404040" />

      {/* chart 9 */}
      <ChartBox panel={P9} make={cfg9} />
      <Txt x={643} y={1092} size={13.5} bold center family={CJK}>国债到期收益率曲线</Txt>
      <L x={558} y={1109} w={22} h={7} kind="box" color="#8064A2" text="日变动（BP）" tx={584} size={9} tcolor="#404040" />
      <L x={677} y={1109} w={22} h={7} kind="box" color="#4BACC6" text="周变动（BP）" tx={703} size={9} tcolor="#404040" />
      <L x={793} y={1109} w={23} h={2} kind="dash" color="#111" text="2022-09-30" tx={820} size={9} tcolor="#404040" />
      <L x={558} y={1125} w={22} h={2} kind="line" color="#9BBB59" text="2022-09-23" tx={584} size={9} tcolor="#404040" />
      <L x={677} y={1125} w={22} h={2.5} kind="line" color="#F79646" text="2022-09-29" tx={703} size={9} tcolor="#404040" />

      {/* chart 10 */}
      <ChartBox panel={P10} make={cfg10} />
      <div style={{ position: 'absolute', left: 335, top: 1310, width: 352, height: 29, border: '1px solid #BFBFBF', background: '#fff', boxSizing: 'border-box' }} />
      <Txt x={343} y={1324} size={17.5} ls={4.5} family={CJK}>资金面情绪指数（日度均值）</Txt>
      <L x={247} y={1347} w={18} h={2} kind="line" color="#1F3864" text="全市场" tx={270} size={13} ls={1.5} />
      <L x={408} y={1347} w={18} h={2} kind="dot" color="#4BACC6" text="大行" tx={430} size={13} ls={1.5} />
      <L x={552} y={1347} w={18} h={2} kind="line" color="#4F81BD" text="中小行" tx={574} size={13} ls={1.5} />
      <L x={713} y={1347} w={19} h={2} kind="line" color="#E8262A" text="非银机构" tx={737} size={13} ls={1.5} />
      <Txt x={194} y={1366} size={13} bold ls={1.3} family={CJK}>资金面情绪指数：取值为0~100，数值越大代表资金越紧（数据来源：国际货币经纪公司）</Txt>
    </div>
  );
}
